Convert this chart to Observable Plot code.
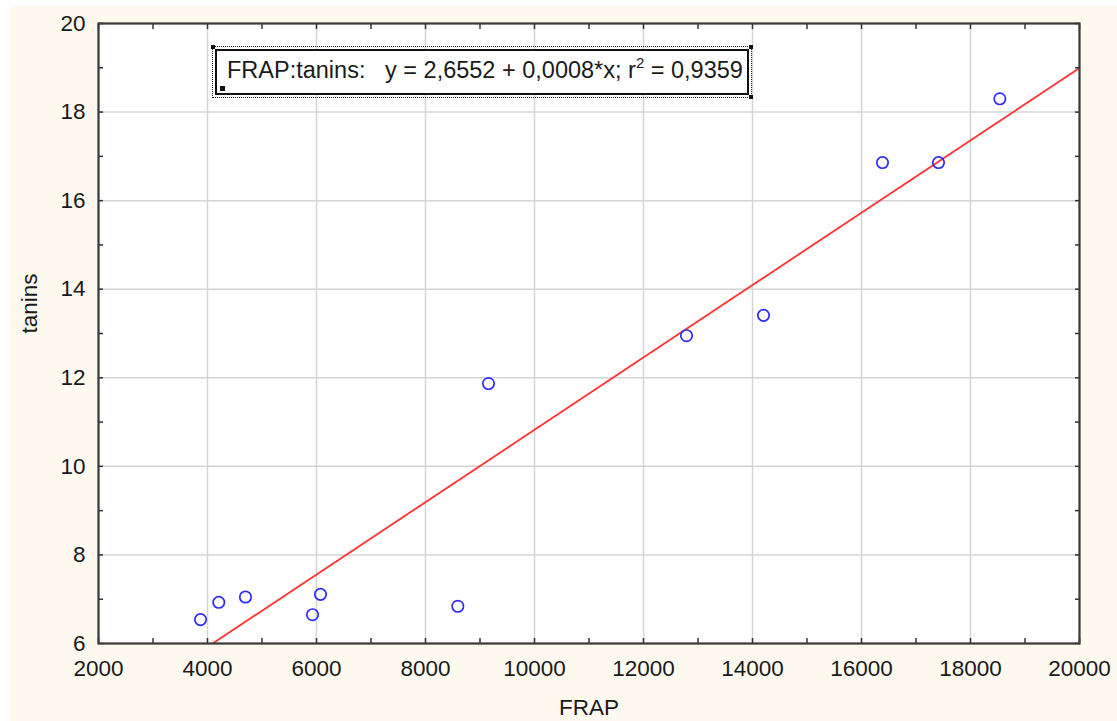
<!DOCTYPE html>
<html>
<head>
<meta charset="utf-8">
<script src="https://cdn.jsdelivr.net/npm/d3@7"></script>
<script src="https://cdn.jsdelivr.net/npm/@observablehq/plot@0.6"></script>
<style>
  html, body { margin: 0; padding: 0; background: #ffffff; }
  #wrap { position: relative; width: 1117px; height: 721px; overflow: hidden; }
  #chart { position: absolute; left: 10px; top: 6px; }
  #chart svg { display: block; }
  #chart svg text { font-size: 22.5px; }
  #note { position: absolute; left: 212px; top: 46px; width: 538px; height: 50px;
          border: 1px dotted #222; box-sizing: content-box; }
  #note .inner { position: absolute; left: 2px; top: 2px; right: 2px; bottom: 2px;
          border: 2px solid #111; background: #fff; }
  #note .txt { position: absolute; left: 14px; top: 10px; white-space: pre;
          font-family: "Liberation Sans", Arial, sans-serif; font-size: 23.5px; line-height: 26px; color: #1a1a1a; }
  #note .txt .sup { font-size: 15px; position: relative; top: -10px; }
  #note .sq { position: absolute; left: 7px; top: 39px; width: 5px; height: 5px; background: #111; }
  #note .c { position: absolute; width: 4px; height: 4px; background: #111; }
</style>
</head>
<body>
<div id="wrap">
  <div id="chart"></div>
  <div id="note">
    <div class="inner"></div>
    <div class="c" style="left:-2px;top:-2px"></div>
    <div class="c" style="right:-2px;top:-2px"></div>
    <div class="c" style="right:-2px;bottom:-2px"></div>
    <div class="sq"></div>
    <div class="txt">FRAP:tanins:   y = 2,6552 + 0,0008*x; r<span class="sup">2</span> = 0,9359</div>
  </div>
</div>
<script>
// ---- data ----
const frap   = [3872, 4207, 4697, 5927, 6073, 8593, 9156, 12789, 14202, 16385, 17413, 18538];
const tanins = [6.54, 6.93, 7.05, 6.65, 7.11, 6.84, 11.87, 12.95, 13.41, 16.86, 16.86, 18.30];

const xTicks = [2000, 4000, 6000, 8000, 10000, 12000, 14000, 16000, 18000, 20000];
const xMinor = [3000, 5000, 7000, 9000, 11000, 13000, 15000, 17000, 19000];
const yTicks = [6, 8, 10, 12, 14, 16, 18, 20];
const yMinor = [7, 9, 11, 13, 15, 17, 19];

const fitIntercept = 2.6552;
const fitSlope = 0.000817;
const xDomain = [2000, 20000];
const yDomain = [6, 20];

// ---- derived tables ----
const points = frap.map((x, i) => ({x, y: tanins[i]}));
const fitLine = xDomain.map(x => ({x, y: fitIntercept + fitSlope * x}));
const xAllTicks = [...xTicks, ...xMinor];
const yAllTicks = [...yTicks, ...yMinor];

const font = '"Liberation Sans", Arial, sans-serif';

const chart = Plot.plot({
  width: 1107,
  height: 715,
  marginLeft: 88,
  marginRight: 38,
  marginTop: 17,
  marginBottom: 78,
  x: {domain: xDomain, label: null},
  y: {domain: yDomain, label: null},
  style: {background: "#fef9ee", fontFamily: font, fontSize: "22px", color: "#1a1a1a"},
  marks: [
    Plot.frame({fill: "#ffffff", stroke: "none"}),
    Plot.gridX(xTicks, {stroke: "#d4d4d4", strokeOpacity: 1, strokeWidth: 1.5}),
    Plot.gridY(yTicks, {stroke: "#d4d4d4", strokeOpacity: 1, strokeWidth: 1.5}),
    Plot.line(fitLine, {x: "x", y: "y", stroke: "#ff3838", strokeWidth: 1.9, clip: true}),
    Plot.dot(points, {x: "x", y: "y", r: 5.7, stroke: "#2b2bff", strokeWidth: 1.7, fill: "none"}),
    Plot.axisX(xTicks, {anchor: "bottom", tickSize: 0, tickPadding: 17, fontSize: 22, tickFormat: d => String(d), label: null}),
    Plot.axisY(yTicks, {anchor: "left", tickSize: 0, tickPadding: 13, fontSize: 22, tickFormat: d => String(d), label: null}),
    Plot.axisX(xAllTicks, {anchor: "bottom", tickSize: -5, text: null, label: null, stroke: "#333", strokeWidth: 1.5}),
    Plot.axisX(xAllTicks, {anchor: "top", tickSize: -5, text: null, label: null, stroke: "#333", strokeWidth: 1.5}),
    Plot.axisY(yAllTicks, {anchor: "left", tickSize: -5, text: null, label: null, stroke: "#333", strokeWidth: 1.5}),
    Plot.axisY(yAllTicks, {anchor: "right", tickSize: -5, text: null, label: null, stroke: "#333", strokeWidth: 1.5}),
    Plot.frame({stroke: "#3a3a3a", strokeWidth: 2.2}),
    Plot.text(["FRAP"], {frameAnchor: "bottom", dy: 56, lineAnchor: "top", fontSize: 22, fill: "#1a1a1a"}),
    Plot.text(["tanins"], {frameAnchor: "left", dx: -69, rotate: -90, fontSize: 22, fill: "#1a1a1a"})
  ]
});
document.getElementById("chart").appendChild(chart);
</script>
</body>
</html>
